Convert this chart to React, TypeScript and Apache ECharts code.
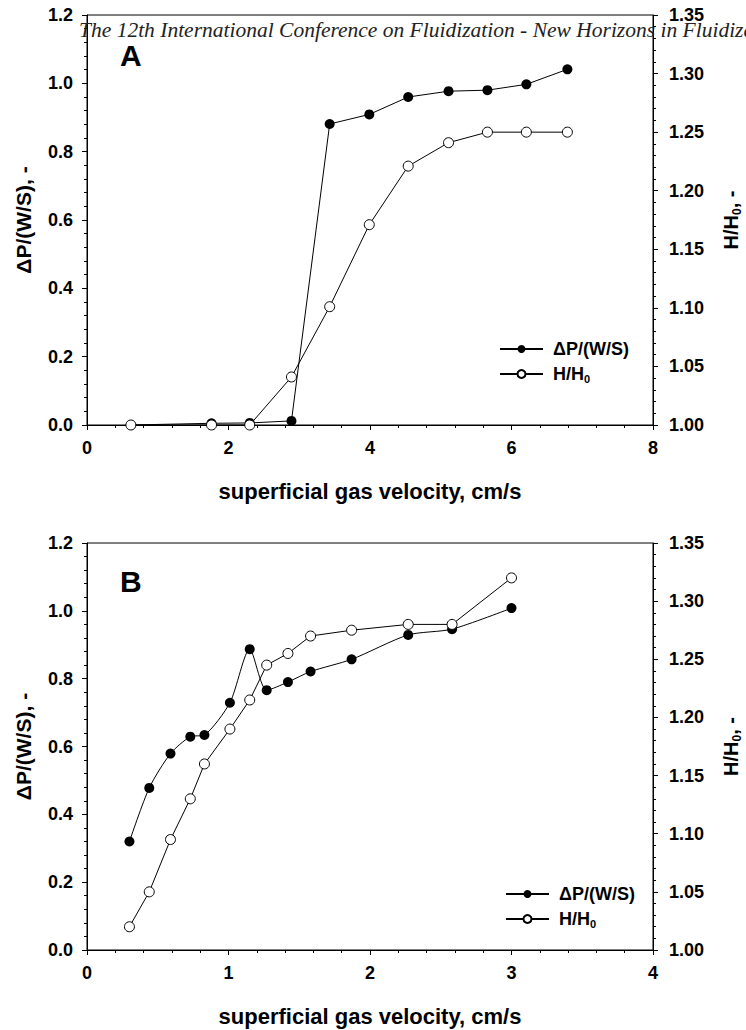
import React, { useEffect, useRef } from "react";
import * as echarts from "echarts";

const velA = [0.62, 1.76, 2.30, 2.89, 3.43, 3.99, 4.54, 5.11, 5.66, 6.21, 6.79];
const dpA = [0.0, 0.005, 0.006, 0.012, 0.881, 0.909, 0.96, 0.977, 0.98, 0.997, 1.041];
const hA = [1.0, 1.0, 1.0, 1.041, 1.101, 1.171, 1.221, 1.241, 1.25, 1.25, 1.25];

const velB = [0.30, 0.44, 0.59, 0.73, 0.83, 1.01, 1.15, 1.27, 1.42, 1.58, 1.87, 2.27, 2.58, 3.0];
const dpB = [0.32, 0.478, 0.579, 0.629, 0.634, 0.729, 0.887, 0.766, 0.79, 0.821, 0.857, 0.929, 0.946, 1.008];
const hB = [1.02, 1.05, 1.095, 1.13, 1.16, 1.19, 1.215, 1.245, 1.255, 1.27, 1.275, 1.28, 1.28, 1.32];

const headerText = "The 12th International Conference on Fluidization - New Horizons in Fluidization Engineering";
const xTitle = "superficial gas velocity, cm/s";
const leftTitle = "ΔP/(W/S), -";
const legendDp = "ΔP/(W/S)";

const SANS = "Liberation Sans";

export default function App() {
  const ref = useRef<HTMLDivElement>(null);
  useEffect(() => {
    if (!ref.current) return;
    const chart = echarts.init(ref.current, null, { renderer: "svg" });
    const pair = (xs: number[], ys: number[]) => xs.map((x, i) => [x, ys[i]]);
    const labelStyle = { color: "#000", fontFamily: SANS, fontWeight: "bold", fontSize: 18 };
    const axisLine = { show: true, lineStyle: { color: "#000", width: 1 } };
    const axisTick = { show: true, inside: false, length: 5, lineStyle: { color: "#000", width: 1 } };
    const minorTick = { show: true, splitNumber: 5, length: 3, lineStyle: { color: "#000", width: 1 } };
    const nameRich = {
      a: { fontFamily: SANS, fontWeight: "bold", fontSize: 20, color: "#000", lineHeight: 24 },
      b: { fontFamily: SANS, fontWeight: "bold", fontSize: 12, color: "#000", lineHeight: 12, verticalAlign: "bottom" },
    };
    const xAxis = (gi: number, max: number, interval: number) => ({
      type: "value", gridIndex: gi, min: 0, max, interval,
      axisLine, axisTick, minorTick,
      splitLine: { show: false },
      axisLabel: { ...labelStyle, margin: 14 },
      name: xTitle, nameLocation: "middle", nameGap: 55,
      nameTextStyle: { fontFamily: SANS, fontWeight: "bold", fontSize: 22, color: "#000" },
    });
    const yLeft = (gi: number) => ({
      type: "value", gridIndex: gi, min: 0, max: 1.2, interval: 0.2, position: "left",
      axisLine, axisTick, minorTick, splitLine: { show: false },
      axisLabel: { ...labelStyle, margin: 14, formatter: (v: number) => v.toFixed(1) },
      name: leftTitle, nameLocation: "middle", nameGap: 53, nameRotate: 90,
      nameTextStyle: { fontFamily: SANS, fontWeight: "bold", fontSize: 21, color: "#000" },
    });
    const yRight = (gi: number) => ({
      type: "value", gridIndex: gi, min: 1.0, max: 1.35, interval: 0.05, position: "right",
      axisLine, axisTick, minorTick, splitLine: { show: false },
      axisLabel: { ...labelStyle, margin: 16, formatter: (v: number) => v.toFixed(2) },
      name: "{a|H/H}{b|0}{a|, -}", nameLocation: "middle", nameGap: 66, nameRotate: 90,
      nameTextStyle: { rich: nameRich },
    });
    const filled = (name: string, xi: number, yi: number, data: number[][], smooth: number | boolean) => ({
      type: "line", name, xAxisIndex: xi, yAxisIndex: yi, data, smooth,
      symbol: "circle", symbolSize: 10, showSymbol: true,
      lineStyle: { color: "#000", width: 1 },
      itemStyle: { color: "#000", borderColor: "#000", borderWidth: 0 },
      z: 2,
    });
    const open = (name: string, xi: number, yi: number, data: number[][]) => ({
      type: "line", name, xAxisIndex: xi, yAxisIndex: yi, data,
      symbol: "circle", symbolSize: 10, showSymbol: true,
      lineStyle: { color: "#000", width: 1 },
      itemStyle: { color: "#fff", borderColor: "#000", borderWidth: 1 },
      z: 3,
    });
    const legendRich = {
      a: { fontFamily: SANS, fontWeight: "bold", fontSize: 18, color: "#000", lineHeight: 20, padding: [0, 0, 0, 5] },
      b: { fontFamily: SANS, fontWeight: "bold", fontSize: 11, color: "#000", lineHeight: 10, verticalAlign: "bottom" },
    };
    const legendFmt = (n: string) => (n.startsWith("dp") ? `{a|${legendDp}}` : "{a|H/H}{b|0}");
    const legend = (left: number, top: number, data: string[]) => ({
      orient: "vertical", left, top, data, itemWidth: 43, itemHeight: 10, itemGap: 7,
      formatter: legendFmt, selectedMode: false,
      textStyle: { rich: legendRich },
    });
    const gridBase = { left: 87, right: 93, show: true, borderColor: "#000", borderWidth: 1, backgroundColor: "transparent", containLabel: false, outerBoundsMode: "none" };
    chart.setOption({
      animation: false,
      backgroundColor: "#fff",
      grid: [
        { ...gridBase, top: 15, height: 410 },
        { ...gridBase, top: 543, height: 407 },
      ],
      xAxis: [xAxis(0, 8, 2), xAxis(1, 4, 1)],
      yAxis: [yLeft(0), yRight(0), yLeft(1), yRight(1)],
      legend: [legend(494, 335, ["dpA", "hA"]), legend(500, 880, ["dpB", "hB"])],
      series: [
        filled("dpA", 0, 0, pair(velA, dpA), false),
        open("hA", 0, 1, pair(velA, hA)),
        filled("dpB", 1, 2, pair(velB, dpB), 0.25),
        open("hB", 1, 3, pair(velB, hB)),
      ],
      graphic: [
        { type: "text", left: 79, top: 19, z: 10, style: { text: headerText, fontFamily: "Liberation Serif", fontStyle: "italic", fontSize: 21.5, fill: "#222" } },
        { type: "text", left: 120, top: 40, style: { text: "A", fontFamily: SANS, fontWeight: "bold", fontSize: 30, fill: "#000" } },
        { type: "text", left: 120, top: 566, style: { text: "B", fontFamily: SANS, fontWeight: "bold", fontSize: 30, fill: "#000" } },
      ],
    });
    return () => chart.dispose();
  }, []);
  return <div ref={ref} style={{ position: "absolute", left: 0, top: 0, width: 746, height: 1030 }} />;
}
